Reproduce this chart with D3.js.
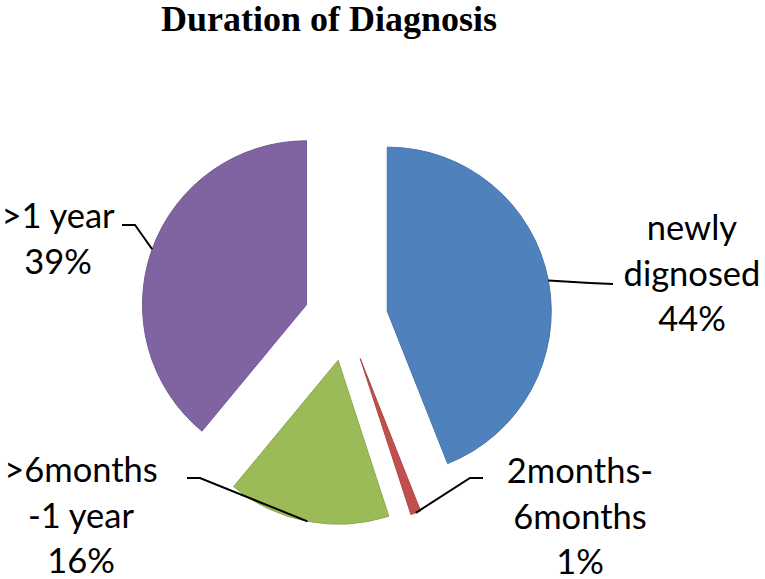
<!DOCTYPE html>
<html>
<head>
<meta charset="utf-8">
<script src="https://cdn.jsdelivr.net/npm/d3@7"></script>
<style>
  html, body { margin: 0; padding: 0; background: #fff; }
  svg { display: block; }
</style>
</head>
<body>
<script>
// ---- data ----
const categories = ["newly dignosed", "2months-6months", ">6months-1 year", ">1 year"];
const values = [44, 1, 16, 39];
const labelLines = [["newly", "dignosed"], ["2months-", "6months"], [">6months", "-1 year"], [">1 year"]];
const colors = ["#4F81BD", "#C0504D", "#9BBB59", "#8064A2"];
const title = "Duration of Diagnosis";

// ---- layout ----
const W = 765, H = 579;
const cx = 346, cy = 319, R = 164, explode = 42;
const svg = d3.select("body").append("svg").attr("width", W).attr("height", H);

svg.append("text")
  .attr("x", 329).attr("y", 31)
  .attr("text-anchor", "middle")
  .style("font-family", "'Liberation Serif', 'Times New Roman', serif")
  .style("font-weight", "bold")
  .style("font-size", "36px")
  .text(title);

const pie = d3.pie().sort(null).startAngle(0).endAngle(2 * Math.PI)(values);
const arc = d3.arc().innerRadius(0).outerRadius(R);

const g = svg.append("g").attr("transform", `translate(${cx},${cy})`);

function offsetOf(d) {
  const a = (d.startAngle + d.endAngle) / 2;
  return [Math.sin(a) * explode, -Math.cos(a) * explode];
}

g.selectAll("path.slice").data(pie).enter().append("path")
  .attr("class", "slice")
  .attr("transform", d => { const o = offsetOf(d); return `translate(${o[0]},${o[1]})`; })
  .attr("d", arc)
  .attr("fill", (d, i) => colors[i])
  .attr("stroke", (d, i) => d3.color(colors[i]).darker(0.3))
  .attr("stroke-width", 1);

// leader line layout (elbow and end points, absolute) and label positions
const leaderLayout = [
  { pts: [[590, 283], [613, 284]], tx: 692, ty: 240 },
  { pts: [[470, 478], [483, 478]], tx: 580, ty: 483 },
  { pts: [[200, 478], [187, 478]], tx: 81, ty: 482 },
  { pts: [[135, 225], [122, 225]], tx: 58, ty: 228 }
];
const lineGap = 45.5;

pie.forEach((d, i) => {
  const a = (d.startAngle + d.endAngle) / 2;
  const o = offsetOf(d);
  const sx = cx + o[0] + Math.sin(a) * R;
  const sy = cy + o[1] - Math.cos(a) * R;
  const L = leaderLayout[i];
  const pts = [[sx, sy]].concat(L.pts);
  svg.append("path")
    .attr("d", d3.line()(pts))
    .attr("fill", "none")
    .attr("stroke", "#000")
    .attr("stroke-width", 2);
  const lines = labelLines[i].concat([values[i] + "%"]);
  const t = svg.append("text")
    .attr("text-anchor", "middle")
    .style("font-family", "Lato, 'Open Sans', sans-serif")
    .style("font-size", "34.5px")
    .attr("fill", "#000");
  lines.forEach((s, k) => {
    t.append("tspan").attr("x", L.tx).attr("y", L.ty + k * lineGap).text(s);
  });
});
</script>
</body>
</html>
